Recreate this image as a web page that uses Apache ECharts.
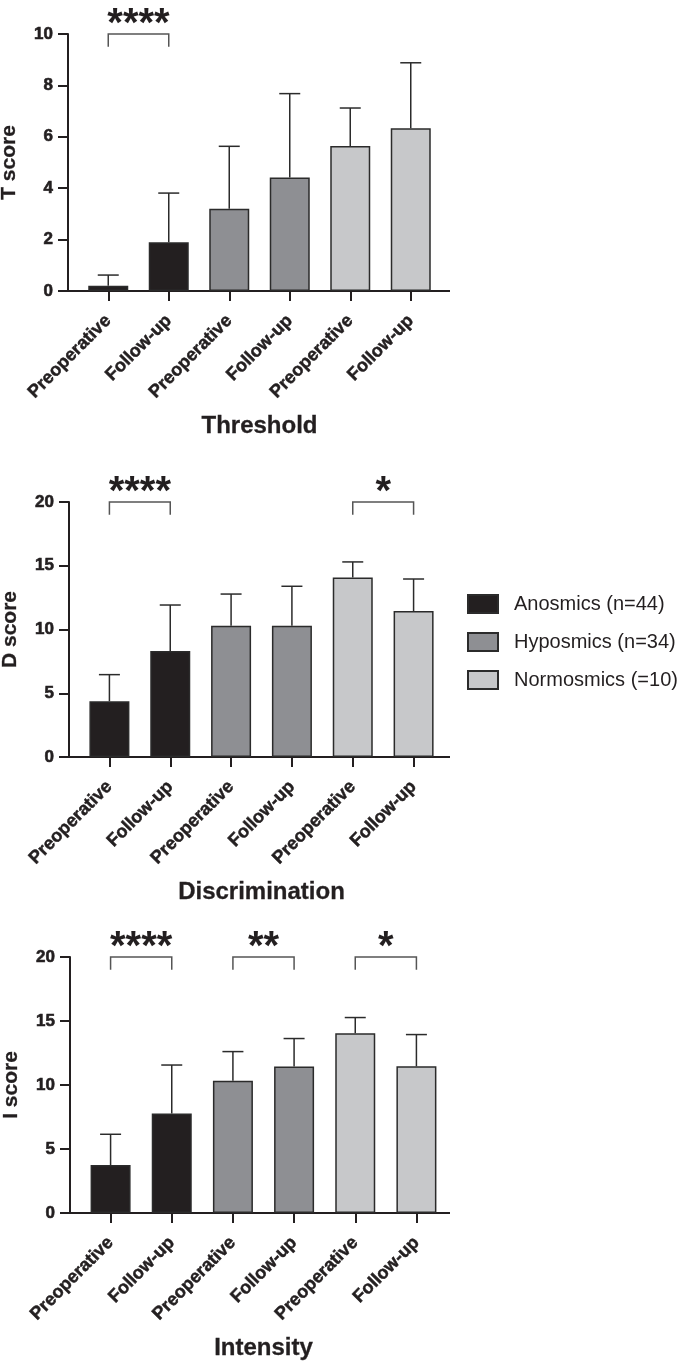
<!DOCTYPE html>
<html>
<head>
<meta charset="utf-8">
<script src="https://cdn.jsdelivr.net/npm/echarts@6/dist/echarts.min.js"></script>
<style>
html,body{margin:0;padding:0;background:#fff;}
#c{width:685px;height:1361px;}
</style>
</head>
<body>
<div id="c"></div>
<script>
// ---- data ----
var categories = ['Preoperative','Follow-up','Preoperative','Follow-up','Preoperative','Follow-up'];
var groupNames = ['Anosmics (n=44)','Hyposmics (n=34)','Normosmics (=10)'];
var groupOfCategory = [0,0,1,1,2,2];
var panelTitles = ['Threshold','Discrimination','Intensity'];
var yNames = ['T score','D score','I score'];
var yMax = [10,20,20];
var yInterval = [2,5,5];

var tMean = [0.2, 1.9, 3.2, 4.42, 5.64, 6.33];
var tSD   = [0.42, 1.91, 2.43, 3.26, 1.48, 2.55];
var dMean = [4.37, 8.31, 10.3, 10.3, 14.07, 11.45];
var dSD   = [2.09, 3.61, 2.48, 3.09, 1.23, 2.51];
var iMean = [3.75, 7.77, 10.34, 11.44, 14.04, 11.46];
var iSD   = [2.4, 3.79, 2.27, 2.19, 1.23, 2.48];

var tSig = [[0,1,'****']];
var dSig = [[0,1,'****'],[4,5,'*']];
var iSig = [[0,1,'****'],[2,3,'**'],[4,5,'*']];

var means = [tMean, dMean, iMean];
var sds = [tSD, dSD, iSD];
var sigs = [tSig, dSig, iSig];

// ---- styles ----
var FONT = 'Liberation Sans, Arial, Helvetica, sans-serif';
var colors = ['#231f20', '#8e8f93', '#c7c8ca'];
var AX = '#231f20';
var grids = [
  {left:78, top:34, width:363, height:257},
  {left:79, top:502, width:365, height:255},
  {left:80, top:957, width:367, height:256}
];

var option = {
  backgroundColor:'#fff',
  animation:false,
  grid: grids.map(function(g){return {left:g.left, top:g.top, width:g.width, height:g.height, containLabel:false, outerBoundsMode:'none'};}),
  legend: {
    orient:'vertical', left:467, top:594, padding:0,
    itemWidth:30, itemHeight:18, itemGap:18,
    icon:'rect',
    data: groupNames,
    textStyle:{fontFamily:FONT, fontSize:20, color:'#231f20', padding:[0,0,0,11]}
  },
  xAxis: [], yAxis: [], series: [], graphic: []
};

for (var p = 0; p < 3; p++) {
  var g = grids[p];
  option.xAxis.push({
    type:'category', gridIndex:p, data:categories,
    name: panelTitles[p], nameLocation:'middle', nameGap:123,
    nameTextStyle:{fontFamily:FONT, fontSize:24, fontWeight:'bold', color:'#231f20', textBorderColor:'#231f20', textBorderWidth:0.3},
    axisLine:{show:true, lineStyle:{color:AX, width:2}},
    axisTick:{show:true, alignWithLabel:true, length:10, lineStyle:{color:AX, width:2}},
    axisLabel:{rotate:45, margin:27, fontFamily:FONT, fontSize:18, fontWeight:'bold', color:'#231f20', textBorderColor:'#231f20', textBorderWidth:0.5, interval:0},
    splitLine:{show:false}
  });
  option.yAxis.push({
    type:'value', gridIndex:p, min:0, max:yMax[p], interval:yInterval[p], offset:10,
    name: yNames[p], nameLocation:'middle', nameGap:48, nameRotate:90,
    nameTextStyle:{fontFamily:FONT, fontSize:21, fontWeight:'bold', color:'#231f20', textBorderColor:'#231f20', textBorderWidth:0.3},
    axisLine:{show:true, lineStyle:{color:AX, width:2}},
    axisTick:{show:true, length:10, lineStyle:{color:AX, width:2}},
    axisLabel:{margin:15, fontFamily:FONT, fontSize:17, fontWeight:'bold', color:'#231f20', textBorderColor:'#231f20', textBorderWidth:0.6},
    splitLine:{show:false}
  });
  // bars: one series per group so legend works
  for (var k = 0; k < 3; k++) {
    var arr = means[p].map(function(v, i){ return groupOfCategory[i] === k ? v : '-'; });
    option.series.push({
      type:'bar', name: groupNames[k], xAxisIndex:p, yAxisIndex:p,
      data: arr, barWidth:40, barGap:'-100%',
      itemStyle:{color:colors[k], borderColor:'#2b2b2b', borderWidth:1.5},
      z:2
    });
  }
  // error bars (upper only)
  (function(pi){
    option.series.push({
      type:'custom', xAxisIndex:pi, yAxisIndex:pi, z:3,
      data: means[pi].map(function(v,i){ return [i, v, v + sds[pi][i]]; }),
      renderItem: function(params, api){
        var b = api.coord([api.value(0), api.value(1)]);
        var t = api.coord([api.value(0), api.value(2)]);
        var sty = {stroke:'#2b2b2b', lineWidth:1.5};
        return {type:'group', children:[
          {type:'line', shape:{x1:b[0], y1:b[1], x2:t[0], y2:t[1]}, style:sty},
          {type:'line', shape:{x1:t[0]-10.5, y1:t[1], x2:t[0]+10.5, y2:t[1]}, style:sty}
        ]};
      }
    });
    // significance brackets
    option.series.push({
      type:'custom', xAxisIndex:pi, yAxisIndex:pi, z:4, clip:false,
      data: sigs[pi].map(function(s){ return [s[0], s[1]]; }),
      renderItem: function(params, api){
        var top = yMax[pi], drop = yMax[pi]*0.95;
        var a = api.coord([api.value(0), top]);
        var b = api.coord([api.value(1), top]);
        var a2 = api.coord([api.value(0), drop]);
        var sty = {stroke:'#555', lineWidth:1.5, fill:null};
        var label = sigs[pi][params.dataIndex][2];
        return {type:'group', children:[
          {type:'polyline', shape:{points:[[a[0], a2[1]],[a[0], a[1]],[b[0], b[1]],[b[0], a2[1]]]}, style:sty},
          {type:'text', x:(a[0]+b[0])/2, y:a[1]-9, style:{text:label, fill:'#231f20', font:'bold 40px ' + FONT, align:'center', verticalAlign:'middle'}}
        ]};
      }
    });
  })(p);
  // x axis line extensions (axis decoration)
  var yb = g.top + g.height;
  option.graphic.push({type:'line', shape:{x1:g.left-10, y1:yb, x2:g.left, y2:yb}, style:{stroke:AX, lineWidth:2}});
  option.graphic.push({type:'line', shape:{x1:g.left+g.width, y1:yb, x2:450, y2:yb}, style:{stroke:AX, lineWidth:2}});
}

var chart = echarts.init(document.getElementById('c'), null, {renderer:'canvas'});
chart.setOption(option);
</script>
</body>
</html>
